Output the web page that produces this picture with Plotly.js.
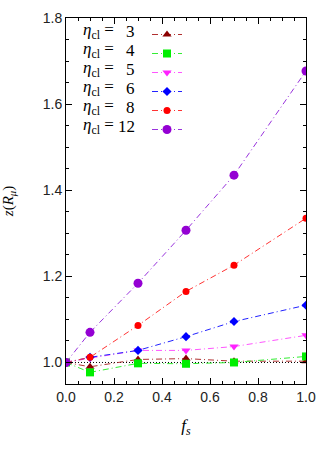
<!DOCTYPE html>
<html><head><meta charset="utf-8">
<script src="https://cdn.plot.ly/plotly-3.0.1.min.js"></script>
<style>html,body{margin:0;padding:0;background:#fff}#c{width:332px;height:457px}</style>
</head><body><div id="c"></div>
<script>
const fs = [0.0, 0.1, 0.3, 0.5, 0.7, 1.0];
const etaLabels = ["3", "4", "5", "6", "8", "12"];
const z3  = [1.000, 0.990, 1.007, 1.009, 1.003, 1.003];
const z4  = [1.000, 0.977, 0.998, 0.997, 1.000, 1.014];
const z5  = [1.000, 1.010, 1.028, 1.028, 1.037, 1.063];
const z6  = [1.000, 1.012, 1.028, 1.060, 1.095, 1.133];
const z8  = [1.000, 1.012, 1.086, 1.165, 1.226, 1.335];
const z12 = [1.000, 1.070, 1.184, 1.307, 1.435, 1.677];
const refX = [0.0, 1.0];
const refY = [1.0, 1.0];

const series = [z3, z4, z5, z6, z8, z12];
const colors = ["#8b0000", "#00ee00", "#ff22ff", "#0000ff", "#ff0000", "#9400d3"];
const lineColors = ["#b03030", "#33ee33", "#ff55ff", "#2222ff", "#ff3333", "#9933dd"];
const symbols = ["triangle-up", "square", "triangle-down", "diamond", "circle", "circle"];
const sizes = [8, 8, 8, 7, 7, 9];

const traces = [{
  x: refX, y: refY, mode: "lines", showlegend: false, hoverinfo: "skip",
  line: {color: "#000", width: 1, dash: "1px,2px"}
}];
series.forEach((s, i) => {
  traces.push({
    x: fs, y: s, mode: "lines+markers", name: " ",
    line: {color: lineColors[i], width: 1, dash: "6px,3px,1px,3px"},
    marker: {color: colors[i], symbol: symbols[i], size: sizes[i], line: {width: 0}}
  });
});

const rowPx = (i) => 31 + 19 * i;
const annotations = [];
etaLabels.forEach((lab, i) => {
  const yp = (384 - rowPx(i)) / 366;
  annotations.push({xref: "paper", yref: "paper", x: (81 - 66) / 240, y: yp, xanchor: "left", yanchor: "middle",
    showarrow: false, text: "<i>η</i><sub>cl</sub> =", font: {family: "Liberation Serif", size: 17, color: "#000"}});
  annotations.push({xref: "paper", yref: "paper", x: (137 - 66) / 240, y: yp, xanchor: "right", yanchor: "middle",
    showarrow: false, text: lab, font: {family: "Liberation Serif", size: 17, color: "#000"}});
});

const axisCommon = {
  showline: true, linecolor: "#000", linewidth: 1, mirror: "ticks",
  ticks: "inside", ticklen: 6, tickcolor: "#000", tickwidth: 1,
  showgrid: false, zeroline: false,
  tickfont: {family: "Liberation Sans, Arial, sans-serif", size: 14, color: "#222"},
  minor: {ticks: "inside", ticklen: 3, tickcolor: "#000", dtick: 0.05, showgrid: false}
};

const layout = {
  width: 332, height: 457,
  margin: {l: 66, r: 26, t: 18, b: 73},
  paper_bgcolor: "#fff", plot_bgcolor: "#fff",
  showlegend: true,
  legend: {x: (147 - 66) / 240, y: 1 - (20 - 18) / 366, xanchor: "left", yanchor: "top",
    bgcolor: "rgba(0,0,0,0)", borderwidth: 0, font: {size: 12}, tracegroupgap: 0},
  xaxis: Object.assign({}, axisCommon, {
    range: [0, 1], dtick: 0.2, tickformat: ".1f",
    title: {text: "<i>f<sub>s</sub></i>", font: {family: "Liberation Serif", size: 17, color: "#000"}, standoff: 15}
  }),
  yaxis: Object.assign({}, axisCommon, {
    range: [0.95, 1.8], dtick: 0.2, tick0: 1.0, tickformat: ".1f",
    title: {text: "<i>z</i>(<i>R<sub>μ</sub></i>)", font: {family: "Liberation Serif", size: 15, color: "#000"}, standoff: 30}
  }),
  annotations: annotations
};

Plotly.newPlot("c", traces, layout, {displayModeBar: false, staticPlot: true});
</script></body></html>
